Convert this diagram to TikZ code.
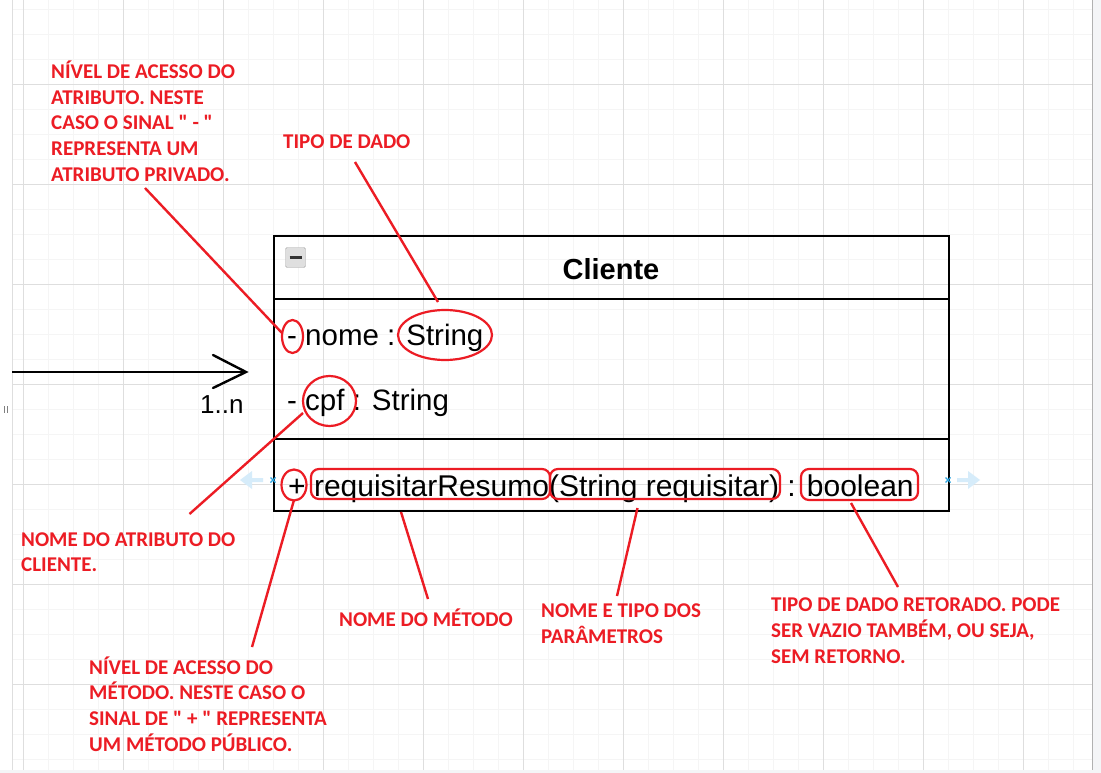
\documentclass[tikz,border=0pt]{standalone}
\usepackage{fontspec}
\usetikzlibrary{shapes.geometric}
\newfontfamily\arialf{Liberation Sans}
\newfontfamily\calibf{Carlito}
\definecolor{annred}{RGB}{236,28,36}
\definecolor{gridmajor}{RGB}{222,222,222}
\definecolor{gridminor}{RGB}{245,245,245}
\definecolor{outside}{RGB}{244,245,247}
\definecolor{hintblue}{RGB}{214,236,250}
\definecolor{handleblue}{RGB}{41,163,224}
\newcommand\annlines[1]{\begin{tabular}[t]{@{}l@{}}#1\end{tabular}}
\tikzset{
  anntext/.style={anchor=base west, inner sep=0pt, text=annred,
    font=\calibf\bfseries\fontsize{21}{25.85}\selectfont},
  annline/.style={draw=annred, line width=2.4pt},
  annell/.style={ellipse, draw=annred, line width=2.2pt, inner sep=0pt},
  annrect/.style={rectangle, rounded corners=8pt, draw=annred, line width=2.2pt, inner sep=0pt},
  umltext/.style={anchor=base west, inner sep=0pt, font=\arialf\fontsize{30}{36}\selectfont},
  attrtext/.style={anchor=base west, inner sep=0pt, font=\arialf\fontsize{29.5}{36}\selectfont},
  umlline/.style={line width=2.4pt, black},
}
\begin{document}
\begin{tikzpicture}[x=1pt,y=-1pt]
\useasboundingbox (0,0) rectangle (1101,773);
\fill[white] (0,0) rectangle (1101,773);
% outside page area
\fill[outside] (1092,0) rectangle (1101,773);
\fill[outside] (0,770) rectangle (1101,773);
% grid
\foreach \x in {48,73,98} {\foreach \k in {0,...,10} {\pgfmathsetmacro\xx{\x+100*\k}
  \ifdim\xx pt<1092pt \draw[gridminor, line width=0.8pt] (\xx,0) -- (\xx,770);\fi}}
\foreach \y in {9,34,59} {\foreach \k in {0,...,7} {\pgfmathsetmacro\yy{\y+100*\k}
  \ifdim\yy pt<770pt \draw[gridminor, line width=0.8pt] (12,\yy) -- (1092,\yy);\fi}}
\foreach \k in {0,...,10} \draw[gridmajor, line width=0.9pt] (23+100*\k,0) -- (23+100*\k,770);
\foreach \k in {0,...,6} \draw[gridmajor, line width=0.9pt] (12,84+100*\k) -- (1092,84+100*\k);
\draw[gridmajor, line width=1pt] (12,0) -- (12,770);
\draw[gridmajor!80!black, line width=0.7pt] (1092,0) -- (1092,770);
\draw[gray, line width=0.6pt] (4,406) -- (4,413) (7,406) -- (7,413);

% hint arrows and handles
\fill[hintblue] (263,478) -- (252,478) -- (252,471) -- (240,480) -- (252,489) -- (252,482) -- (263,482) -- cycle;
\fill[hintblue] (957,478) -- (968,478) -- (968,471) -- (980,480) -- (968,489) -- (968,482) -- (957,482) -- cycle;

% class box
\node[draw, umlline, rectangle, minimum width=675pt, minimum height=275pt, inner sep=0pt, anchor=north west] (cls) at (273,235) {};
\coordinate (h1l) at (273,299); \coordinate (h1r) at (948,299);
\coordinate (h2l) at (273,439); \coordinate (h2r) at (948,439);
\draw[umlline] (h1l) -- (h1r);
\draw[umlline] (h2l) -- (h2r);
\node[draw=gray!70, fill=gray!25, rounded corners=1.5pt, minimum size=20pt, inner sep=0pt] (collapse) at (295.5,257.5) {};
\draw[line width=2.4pt, black!80] ([xshift=-6pt]collapse.center) -- ([xshift=6pt]collapse.center);
\node[anchor=base, inner sep=0pt, font=\arialf\bfseries\fontsize{29}{34}\selectfont] (title) at (611,279) {Cliente};
\node[attrtext] (attr1) at (287,345) {- nome : String};
\node[attrtext] (attr2) at (287,410) {- cpf : String};
\node[umltext] (meth) at (288,496) {+ requisitarResumo(String requisitar) : boolean};
\foreach \p in {(273,480),(948,480)} {
  \draw[handleblue, line width=1.2pt] \p ++(-2.5,-2.5) -- ++(5,5) \p ++(-2.5,2.5) -- ++(5,-5);}

% association arrow
\coordinate (assocstart) at (12,372);
\coordinate (assocend) at (246,372);
\draw[umlline] (assocstart) -- (assocend);
\draw[umlline, line cap=round, line join=miter] (213,355) -- (assocend) -- (213,388);
\node[anchor=base west, inner sep=0pt, font=\arialf\fontsize{26}{30}\selectfont] (mult) at (200,413) {1..n};

% red marks
\node[annell, minimum width=21pt, minimum height=33pt] (eminus) at (292.5,336.5) {};
\node[annell, minimum width=94pt, minimum height=50pt] (estring) at (445,335) {};
\node[annell, minimum width=53pt, minimum height=50pt] (ecpf) at (329.5,401) {};
\node[annell, minimum width=25pt, minimum height=31pt] (eplus) at (294,485) {};
\node[annrect, minimum width=239pt, minimum height=30pt] (rname) at (430.5,484) {};
\node[annrect, minimum width=230pt, minimum height=30pt] (rparams) at (665,484) {};
\node[annrect, minimum width=117pt, minimum height=31pt] (rbool) at (859.5,484.5) {};

% annotations
\node[anntext] (t1) at (51,78.3) {\annlines{NÍVEL DE ACESSO DO\\ATRIBUTO. NESTE\\CASO O SINAL " - "\\REPRESENTA UM\\ATRIBUTO PRIVADO.}};
\node[anntext] (t2) at (283,149) {TIPO DE DADO};
\node[anntext] (t3) at (21,546) {\annlines{NOME DO ATRIBUTO DO\\CLIENTE.}};
\node[anntext] (t4) at (339,626) {NOME DO MÉTODO};
\node[anntext] (t5) at (541,617.3) {\annlines{NOME E TIPO DOS\\PARÂMETROS}};
\node[anntext] (t6) at (771,611.7) {\annlines{TIPO DE DADO RETORADO. PODE\\SER VAZIO TAMBÉM, OU SEJA,\\SEM RETORNO.}};
\node[anntext] (t7) at (89,674) {\annlines{NÍVEL DE ACESSO DO\\MÉTODO. NESTE CASO O\\SINAL DE " + " REPRESENTA\\UM MÉTODO PÚBLICO.}};

\coordinate (c1) at (145,188);  \coordinate (c1e) at (282,333);
\coordinate (c2) at (355,162);  \coordinate (c2e) at (438,302);
\coordinate (c3) at (189.5,514); \coordinate (c3e) at (303,413);
\coordinate (c4) at (252,647);  \coordinate (c4e) at (294,500);
\coordinate (c5) at (428,599);  \coordinate (c5e) at (401,512);
\coordinate (c6) at (617,596);  \coordinate (c6e) at (637.5,508);
\coordinate (c7) at (898,587);  \coordinate (c7e) at (851,503);
\draw[annline] (c1) -- (c1e);
\draw[annline] (c2) -- (c2e);
\draw[annline] (c3) -- (c3e);
\draw[annline] (c4) -- (c4e);
\draw[annline] (c5) -- (c5e);
\draw[annline] (c6) -- (c6e);
\draw[annline] (c7) -- (c7e);
\end{tikzpicture}
\end{document}
